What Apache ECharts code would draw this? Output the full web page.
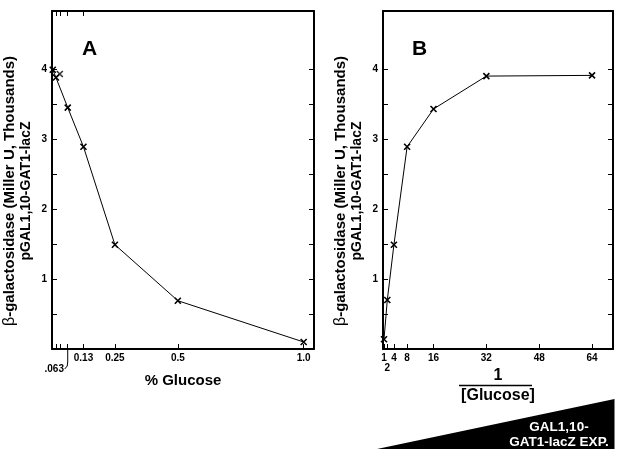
<!DOCTYPE html>
<html><head><meta charset="utf-8">
<script src="https://cdn.jsdelivr.net/npm/echarts@6/dist/echarts.min.js"></script>
<style>html,body{margin:0;padding:0;background:#fff}#c{width:622px;height:458px}</style>
</head><body><div id="c"></div>
<script>
// ---- data ----
const glucosePct = [0.003, 0.0156, 0.0625, 0.125, 0.25, 0.5, 1.0];
const activityA = [3.99, 3.88, 3.45, 2.89, 1.49, 0.69, 0.10];
const extraPctA = [0.031];
const extraActA = [3.93];
const invGlucose = [1, 2, 4, 8, 16, 32, 64];
const activityB = [0.14, 0.70, 1.49, 2.89, 3.43, 3.90, 3.91];
const yTickValues = [0.5, 1, 1.5, 2, 2.5, 3, 3.5, 4];
const yLabelValues = [1, 2, 3, 4];
const xTickValuesA = [0.0156, 0.031, 0.0625, 0.125, 0.25, 0.5, 1.0];
const xTopTickValuesA = [0.0156, 0.031, 0.0625, 0.125];
const xLabelValuesA = [0.125, 0.25, 0.5, 1.0];
const xLabelTextA = ['0.13', '0.25', '0.5', '1.0'];
const xLowLabelValuesA = [0.0625];
const xLowLabelTextA = ['.063'];
const xTickValuesB = [1, 2, 4, 8, 16, 32, 48, 64];
const xLabelValuesB = [1, 4, 8, 16, 32, 48, 64];
const xLabelTextB = ['1', '4', '8', '16', '32', '48', '64'];
const xLowLabelValuesB = [2];
const xLowLabelTextB = ['2'];

const FONT = '"Liberation Sans", Arial, Helvetica, sans-serif';
const chart = echarts.init(document.getElementById('c'), null, {renderer: 'canvas'});
const XSYM = 'path://M0,0L10,10M10,0L0,10';

const grids = [
  {left: 52, top: 11, width: 262, height: 338},
  {left: 383, top: 11, width: 230, height: 338}
];

function lookup(vals, texts) {
  return function (v) {
    const i = vals.findIndex(function (u) { return Math.abs(u - v) < 1e-9; });
    return i >= 0 ? texts[i] : '';
  };
}

const labelFont = {color: '#000', fontFamily: FONT, fontWeight: 'bold', fontSize: 10};

function yAxisPair(gi) {
  const common = {
    type: 'value', gridIndex: gi, min: 0, max: 4.83,
    axisLine: {show: true, onZero: false, lineStyle: {color: '#000', width: 2}},
    axisTick: {show: true, inside: true, length: 5, customValues: yTickValues, lineStyle: {color: '#000', width: 1}},
    splitLine: {show: false}
  };
  return [
    Object.assign({}, common, {
      position: 'left',
      axisLabel: Object.assign({show: true, customValues: yLabelValues, margin: 5}, labelFont),
      name: '{b|β}{t|-galactosidase (Miller U, Thousands)}\n{s|pGAL1,10-GAT1-lacZ}',
      nameLocation: 'middle', nameGap: 17,
      nameTextStyle: {
        color: '#000', fontFamily: FONT, fontWeight: 'bold', fontSize: 14, lineHeight: 17,
        padding: [0, 22, 0, 0],
        rich: {
          b: {fontFamily: FONT, fontWeight: 'normal', fontSize: 16, color: '#000', lineHeight: 17},
          t: {fontFamily: FONT, fontWeight: 'bold', fontSize: 15, color: '#000', lineHeight: 17},
          s: {fontFamily: FONT, fontWeight: 'bold', fontSize: 14, color: '#000', lineHeight: 17}
        }
      }
    }),
    Object.assign({}, common, {position: 'right', axisLabel: {show: false}})
  ];
}

function lowLabelAxis(gi, min, max, vals, texts, margin, rich) {
  return {
    type: 'value', gridIndex: gi, min: min, max: max, position: 'bottom',
    axisLine: {show: false}, axisTick: {show: false}, splitLine: {show: false},
    axisLabel: Object.assign({
      show: true, customValues: vals, margin: margin,
      showMinLabel: true, showMaxLabel: true,
      formatter: function (v) { const t = lookup(vals, texts)(v); return rich ? '{o|' + t + '}' : t; },
      rich: rich || {}
    }, labelFont)
  };
}

const option = {
  animation: false,
  backgroundColor: '#fff',
  grid: grids,
  xAxis: [
    {
      type: 'value', gridIndex: 0, min: 0, max: 1.041, position: 'bottom',
      axisLine: {show: true, onZero: false, lineStyle: {color: '#000', width: 2}},
      axisTick: {show: true, inside: true, length: 5, customValues: xTickValuesA, lineStyle: {color: '#000', width: 1}},
      axisLabel: Object.assign({
        show: true, customValues: xLabelValuesA, margin: 4,
        showMinLabel: true, showMaxLabel: true,
        formatter: lookup(xLabelValuesA, xLabelTextA)
      }, labelFont),
      splitLine: {show: false},
      name: '% Glucose', nameLocation: 'middle', nameGap: 24,
      nameTextStyle: {color: '#000', fontFamily: FONT, fontWeight: 'bold', fontSize: 15}
    },
    {
      type: 'value', gridIndex: 0, min: 0, max: 1.041, position: 'top',
      axisLine: {show: true, onZero: false, lineStyle: {color: '#000', width: 2}},
      axisTick: {show: true, inside: true, length: 5, customValues: xTopTickValuesA, lineStyle: {color: '#000', width: 1}},
      axisLabel: {show: false}, splitLine: {show: false}
    },
    lowLabelAxis(0, 0, 1.041, xLowLabelValuesA, xLowLabelTextA, 15,
      {o: {fontFamily: FONT, fontWeight: 'bold', fontSize: 10, color: '#000', padding: [0, 27, 0, 0]}}),
    {
      type: 'value', gridIndex: 1, min: 0.697, max: 70.35, position: 'bottom',
      axisLine: {show: true, onZero: false, lineStyle: {color: '#000', width: 2}},
      axisTick: {show: true, inside: true, length: 5, customValues: xTickValuesB, lineStyle: {color: '#000', width: 1}},
      axisLabel: Object.assign({
        show: true, customValues: xLabelValuesB, margin: 4,
        showMinLabel: true, showMaxLabel: true,
        formatter: lookup(xLabelValuesB, xLabelTextB)
      }, labelFont),
      splitLine: {show: false},
      name: '{n|1}\n{d|[Glucose]}', nameLocation: 'middle', nameGap: 8,
      nameTextStyle: {
        color: '#000', fontFamily: FONT, fontWeight: 'bold', fontSize: 16,
        rich: {
          n: {fontFamily: FONT, fontWeight: 'bold', fontSize: 16, color: '#000', lineHeight: 20},
          d: {fontFamily: FONT, fontWeight: 'bold', fontSize: 16, color: '#000', lineHeight: 20}
        }
      }
    },
    {
      type: 'value', gridIndex: 1, min: 0.697, max: 70.35, position: 'top',
      axisLine: {show: true, onZero: false, lineStyle: {color: '#000', width: 2}},
      axisTick: {show: false}, axisLabel: {show: false}, splitLine: {show: false}
    },
    lowLabelAxis(1, 0.697, 70.35, xLowLabelValuesB, xLowLabelTextB, 14, null)
  ],
  yAxis: yAxisPair(0).concat(yAxisPair(1)),
  series: [
    {
      type: 'line', xAxisIndex: 0, yAxisIndex: 0,
      data: glucosePct.map(function (x, i) { return [x, activityA[i]]; }),
      symbol: XSYM, symbolSize: 6,
      itemStyle: {color: 'rgba(0,0,0,0)', borderColor: '#000', borderWidth: 1.6},
      lineStyle: {color: '#000', width: 1}
    },
    {
      type: 'scatter', xAxisIndex: 0, yAxisIndex: 0,
      data: extraPctA.map(function (x, i) { return [x, extraActA[i]]; }),
      symbol: XSYM, symbolSize: 6,
      itemStyle: {color: 'rgba(0,0,0,0)', borderColor: '#000', borderWidth: 1.6}
    },
    {
      type: 'line', xAxisIndex: 3, yAxisIndex: 2,
      data: invGlucose.map(function (x, i) { return [x, activityB[i]]; }),
      symbol: XSYM, symbolSize: 6,
      itemStyle: {color: 'rgba(0,0,0,0)', borderColor: '#000', borderWidth: 1.6},
      lineStyle: {color: '#000', width: 1}
    }
  ],
  graphic: [
    {type: 'text', left: 82, top: 39, style: {text: 'A', font: 'bold 21px ' + FONT, fill: '#000'}},
    {type: 'text', left: 412, top: 39, style: {text: 'B', font: 'bold 21px ' + FONT, fill: '#000'}},
    {type: 'polygon', shape: {points: [[377, 449], [614.5, 399], [614.5, 449]]}, style: {fill: '#000'}},
    {type: 'text', x: 559, y: 420, style: {text: 'GAL1,10-\nGAT1-lacZ EXP.', font: 'bold 13.5px ' + FONT, fill: '#fff', align: 'center', lineHeight: 15}},
    {type: 'line', shape: {x1: 459, y1: 385.5, x2: 532, y2: 385.5}, style: {stroke: '#000', lineWidth: 1.5}}
  ]
};
chart.setOption(option);

// leader line from the 0.063 tick down to its label, positioned through the axis scale
const px = chart.convertToPixel({xAxisIndex: 0}, xLowLabelValuesA[0]);
const py = chart.convertToPixel({yAxisIndex: 0}, 0);
chart.setOption({graphic: option.graphic.concat([
  {type: 'polyline', shape: {points: [[px, py], [px, py + 13], [px - 0.5, py + 17], [px - 3, py + 20]]}, style: {stroke: '#000', lineWidth: 1, fill: null}}
])});
</script>
</body></html>
